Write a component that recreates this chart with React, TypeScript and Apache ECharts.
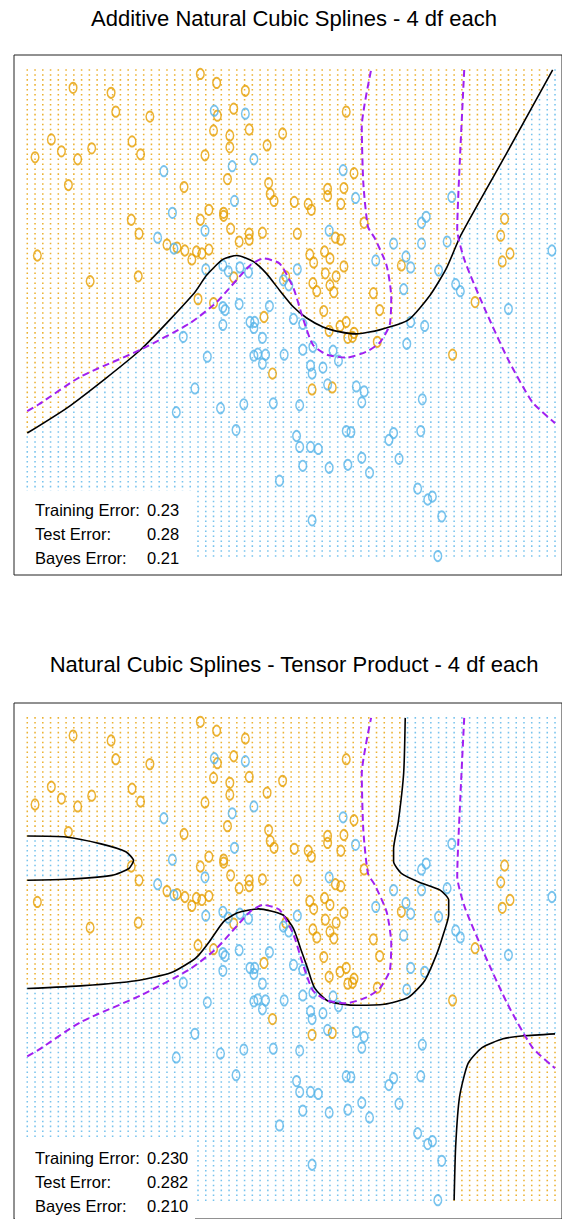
import React, { useEffect, useRef } from "react";
import * as echarts from "echarts";

const ORANGE = "#E69F00";
const BLUE = "#56B4E9";
const PURPLE = "#A020F0";
const FONT = "'Liberation Sans', Arial, Helvetica, sans-serif";

const titles = [
  "Additive Natural Cubic Splines - 4 df each",
  "Natural Cubic Splines - Tensor Product - 4 df each",
];
const errorLabels = ["Training Error:", "Test Error:", "Bayes Error:"];
const errorValues1 = ["0.23", "0.28", "0.21"];
const errorValues2 = ["0.230", "0.282", "0.210"];

// prediction lattice (x1: -2.6..4.2 by 0.1, x2: -2..2.9 by 0.05)
const px1 = Array.from({ length: 69 }, (_, i) => Math.round((-2.6 + 0.1 * i) * 100) / 100);
const px2 = Array.from({ length: 99 }, (_, j) => Math.round((-2 + 0.05 * j) * 100) / 100);

// training points
const orangePts: [number, number][] = [
  [-2.01, 2.72], [-1.52, 2.67], [-1.46, 2.48], [-1.02, 2.43], [-2.29, 2.2], [-1.25, 2.18], [-2.16, 2.08], [-1.77, 2.11],
  [-2.5, 2.02], [-1.95, 2.0], [-1.14, 2.05], [-2.07, 1.74], [-0.58, 1.72], [-1.26, 1.39], [-1.16, 1.25], [-2.47, 1.03],
  [-1.79, 0.77], [-1.17, 0.82], [-0.8, 1.14], [-0.67, 1.11], [-0.57, 1.08], [-0.48, 0.99], [-0.42, 1.07], [-0.35, 1.05],
  [-0.26, 1.09], [-0.37, 2.86], [-0.16, 2.77], [0.21, 2.69], [0.06, 2.51], [-0.15, 2.44], [1.51, 2.48], [-0.2, 2.29],
  [0.01, 2.24], [0.26, 2.3], [0.69, 2.26], [0.01, 2.12], [0.49, 2.14], [-0.31, 2.04], [1.61, 1.86], [-0.02, 1.8],
  [0.51, 1.76], [0.53, 1.65], [0.58, 1.58], [1.27, 1.7], [1.27, 1.63], [1.48, 1.71], [0.84, 1.57], [1.02, 1.55],
  [1.06, 1.49], [1.44, 1.55], [-0.26, 1.49], [-0.37, 1.39], [-0.07, 1.46], [-0.07, 1.43], [1.74, 1.36], [0.02, 1.3],
  [0.26, 1.25], [0.26, 1.19], [0.13, 1.17], [0.43, 1.26], [0.88, 1.25], [1.37, 1.21], [1.44, 1.19], [0.06, 0.81],
  [-0.4, 0.59], [-0.2, 0.55], [0.45, 0.41], [0.73, 0.82], [1.04, 1.04], [1.09, 0.96], [1.23, 1.07], [1.3, 1.0],
  [1.48, 0.92], [1.24, 0.85], [1.38, 0.82], [1.08, 0.75], [1.13, 0.67], [1.3, 0.73], [1.35, 0.66], [1.86, 0.65],
  [1.22, 0.47], [1.29, 0.27], [1.43, 0.32], [1.51, 0.36], [1.53, 0.2], [1.61, 0.25], [1.59, 0.21], [1.91, 0.16],
  [0.56, -0.16], [1.07, -0.32], [1.33, -0.3], [3.55, 1.4], [3.5, 1.23], [3.62, 1.05], [3.52, 0.97], [2.22, 0.93],
  [1.94, 0.48], [3.17, 0.56], [2.88, 0.03],
];
const bluePts: [number, number][] = [
  [-0.84, 1.88], [-0.73, 1.46], [-0.19, 2.49], [0.21, 2.46], [0.32, 2.0], [0.04, 1.93], [1.47, 1.89], [1.63, 1.61],
  [0.07, 1.58], [-0.31, 1.28], [1.29, 1.28], [2.87, 1.62], [2.54, 1.42], [2.48, 1.36], [-0.92, 1.21], [-0.71, 1.1],
  [-0.59, 0.21], [-0.44, -0.31], [-0.3, 0.89], [-0.08, 0.93], [-0.01, 0.87], [0.14, 0.91], [0.25, 0.86], [0.7, 0.78],
  [0.77, 0.73], [0.88, 0.89], [1.89, 0.98], [-0.08, 0.51], [-0.05, 0.48], [0.13, 0.54], [0.52, 0.52], [-0.08, 0.33],
  [0.27, 0.36], [0.33, 0.36], [0.32, 0.3], [0.83, 0.39], [0.95, 0.34], [0.43, 0.2], [-0.28, 0.01], [0.32, 0.02],
  [0.37, 0.04], [0.47, 0.03], [0.43, -0.06], [0.71, 0.03], [0.95, 0.08], [1.08, 0.11], [1.34, 0.07], [1.41, -0.03],
  [1.05, -0.08], [1.07, -0.16], [1.21, -0.1], [1.27, -0.27], [1.64, -0.29], [1.74, -0.34], [1.71, -0.45], [2.12, 1.15],
  [2.48, 1.15], [2.81, 1.17], [2.28, 1.02], [2.34, 0.91], [2.7, 0.88], [2.92, 0.74], [2.98, 0.67], [2.25, 0.69],
  [4.16, 1.08], [3.6, 0.49], [2.34, 0.36], [2.52, 0.32], [2.29, 0.14], [2.49, -0.42], [-0.68, -0.55], [-0.11, -0.51],
  [0.19, -0.47], [0.57, -0.46], [0.91, -0.48], [0.09, -0.73], [0.87, -0.79], [0.91, -0.9], [1.05, -0.9], [1.15, -0.92],
  [1.51, -0.74], [1.57, -0.75], [0.95, -1.09], [1.29, -1.11], [1.53, -1.08], [1.71, -1.01], [1.81, -1.16], [0.65, -1.24],
  [1.07, -1.64], [2.12, -0.76], [2.06, -0.83], [2.47, -0.74], [2.19, -1.02], [2.43, -1.32], [2.62, -1.4], [2.56, -1.43],
  [2.74, -1.6], [2.69, -2.0],
];

// additive fit decision boundary
const fit1Boundary: [number, number][] = [
  [-2.6, -0.76], [-2.04, -0.48], [-1.14, 0.08], [-0.45, 0.65], [-0.29, 0.83], [-0.08, 0.99], [0.1, 1.03], [0.31, 0.97],
  [0.48, 0.85], [0.65, 0.68], [0.83, 0.51], [1.0, 0.4], [1.21, 0.31], [1.43, 0.26], [1.64, 0.24], [1.94, 0.28],
  [2.31, 0.38], [2.59, 0.63], [2.8, 0.9], [2.99, 1.24], [3.59, 2.08], [4.17, 2.9],
];
// Bayes decision boundary (two pieces)
const bayesA: [number, number][] = [
  [-2.6, -0.54], [-2.45, -0.47], [-1.91, -0.19], [-1.14, 0.08], [-0.5, 0.35], [-0.16, 0.56], [0.27, 0.93], [0.44, 1.0],
  [0.65, 0.95], [0.83, 0.7], [0.95, 0.4], [1.08, 0.13], [1.26, 0.03], [1.51, 0.0], [1.77, 0.06], [1.94, 0.15],
  [2.07, 0.33], [2.09, 0.61], [2.03, 0.93], [1.88, 1.2], [1.79, 1.32], [1.73, 1.76], [1.71, 2.33], [1.83, 2.9],
];
const bayesB: [number, number][] = [
  [3.03, 2.9], [2.98, 2.09], [2.94, 1.29], [3.04, 0.97], [3.29, 0.5], [3.59, -0.01], [3.91, -0.45], [4.2, -0.66],
];
// tensor-product fit decision boundary (three pieces)
const fit2Main: [number, number][] = [
  [2.27, 2.9], [2.25, 2.34], [2.18, 1.84], [2.12, 1.57], [2.12, 1.44], [2.22, 1.32], [2.45, 1.23], [2.72, 1.15],
  [2.83, 1.05], [2.83, 0.9], [2.76, 0.7], [2.67, 0.49], [2.52, 0.23], [2.31, 0.06], [2.0, -0.01], [1.64, -0.02],
  [1.28, 0.02], [1.1, 0.16], [1.01, 0.36], [0.92, 0.56], [0.83, 0.76], [0.69, 0.9], [0.38, 0.96], [0.11, 0.92],
  [-0.07, 0.83], [-0.25, 0.63], [-0.39, 0.49], [-0.48, 0.43], [-0.75, 0.31], [-1.2, 0.23], [-1.87, 0.18], [-2.6, 0.15],
];
const fit2Loop: [number, number][] = [
  [-2.6, 1.7], [-2.1, 1.69], [-1.65, 1.62], [-1.33, 1.54], [-1.23, 1.45], [-1.29, 1.37], [-1.51, 1.3], [-2.1, 1.26],
  [-2.6, 1.25],
];
const fit2Corner: [number, number][] = [
  [2.9, -2.0], [2.92, -1.45], [2.97, -0.95], [3.08, -0.61], [3.26, -0.45], [3.53, -0.36], [3.8, -0.33], [4.2, -0.31],
];

const X_MIN = -2.771, X_MAX = 4.29, Y_MIN = -2.191, Y_MAX = 3.051;

function inPoly(x: number, y: number, poly: [number, number][]) {
  let inside = false;
  for (let i = 0, j = poly.length - 1; i < poly.length; j = i++) {
    const [xi, yi] = poly[i];
    const [xj, yj] = poly[j];
    if (yi > y !== yj > y && x < ((xj - xi) * (y - yi)) / (yj - yi) + xi) inside = !inside;
  }
  return inside;
}

function splitLattice(isOrange: (x: number, y: number) => boolean) {
  const o: [number, number][] = [];
  const b: [number, number][] = [];
  for (const x of px1) for (const y of px2) (isOrange(x, y) ? o : b).push([x, y]);
  return [o, b];
}

export default function App() {
  const ref = useRef<HTMLDivElement>(null);
  useEffect(() => {
    if (!ref.current) return;
    const chart = echarts.init(ref.current, null, { renderer: "svg" });

    const polyA1: [number, number][] = [
      [-2.8, fit1Boundary[0][1]], ...fit1Boundary, [fit1Boundary[fit1Boundary.length - 1][0], 3.1], [-2.8, 3.1],
    ];
    const lat1 = splitLattice((x, y) => inPoly(x, y, polyA1));
    const polyMain: [number, number][] = [[-2.8, 3.1], [fit2Main[0][0], 3.1], ...fit2Main, [-2.8, fit2Main[fit2Main.length - 1][1]]];
    const polyLoop: [number, number][] = [[-2.8, fit2Loop[0][1]], ...fit2Loop, [-2.8, fit2Loop[fit2Loop.length - 1][1]]];
    const polyCorner: [number, number][] = [[fit2Corner[0][0], -2.1], ...fit2Corner, [4.4, fit2Corner[fit2Corner.length - 1][1]], [4.4, -2.1]];
    const lat2 = splitLattice(
      (x, y) => (inPoly(x, y, polyMain) && !inPoly(x, y, polyLoop)) || inPoly(x, y, polyCorner)
    );

    const latticeSeries = (data: any, color: string, idx: number) => ({
      type: "scatter", xAxisIndex: idx, yAxisIndex: idx, data, symbol: "rect", symbolSize: 1.55,
      large: true, largeThreshold: 500, itemStyle: { color }, silent: true, z: 1,
    });
    const pointSeries = (data: any, color: string, idx: number) => ({
      type: "scatter", xAxisIndex: idx, yAxisIndex: idx, data, symbol: "circle", symbolSize: [7.6, 10.2],
      itemStyle: { color: "rgba(0,0,0,0)", borderColor: color, borderWidth: 1.7 }, silent: true, z: 3,
    });
    const lineSeries = (data: any, color: string, width: number, type: any, idx: number) => ({
      type: "line", xAxisIndex: idx, yAxisIndex: idx, data, showSymbol: false, symbol: "none", smooth: 0.2,
      lineStyle: { color, width, type }, silent: true, z: 4,
    });

    const gridTops = [55, 703];
    const graphics: any[] = [];
    titles.forEach((t, k) => {
      graphics.push({
        type: "text", x: 294, y: 18 + k * 646, z: 20,
        style: { text: t, fontSize: 22, fontFamily: FONT, fill: "#000", textAlign: "center", textVerticalAlign: "middle" },
      });
    });
    [errorValues1, errorValues2].forEach((vals, k) => {
      const off = k * 648;
      graphics.push({ type: "rect", z: 10, shape: { x: 15, y: 491 + off, width: 180, height: 83 }, style: { fill: "#fff" } });
      errorLabels.forEach((lab, i) => {
        const y = 510 + off + i * 24;
        graphics.push({ type: "text", x: 35, y, z: 11, style: { text: lab, fontSize: 16.5, fontFamily: FONT, fill: "#000", textVerticalAlign: "middle" } });
        graphics.push({ type: "text", x: 147, y, z: 11, style: { text: vals[i], fontSize: 16.5, fontFamily: FONT, fill: "#000", textVerticalAlign: "middle" } });
      });
    });

    const axisCommon = { show: false, splitLine: { show: false } };
    chart.setOption({
      animation: false,
      grid: gridTops.map((top) => ({
        left: 14, top, width: 548, height: 520, show: true, borderColor: "#222", borderWidth: 1, backgroundColor: "#fff",
      })),
      xAxis: [0, 1].map((i) => ({ type: "value", gridIndex: i, min: X_MIN, max: X_MAX, ...axisCommon })),
      yAxis: [0, 1].map((i) => ({ type: "value", gridIndex: i, min: Y_MIN, max: Y_MAX, ...axisCommon })),
      series: [
        latticeSeries(lat1[0], ORANGE, 0),
        latticeSeries(lat1[1], BLUE, 0),
        pointSeries(orangePts, ORANGE, 0),
        pointSeries(bluePts, BLUE, 0),
        lineSeries(fit1Boundary, "#000", 1.6, "solid", 0),
        lineSeries(bayesA, PURPLE, 2, [7, 4], 0),
        lineSeries(bayesB, PURPLE, 2, [7, 4], 0),
        latticeSeries(lat2[0], ORANGE, 1),
        latticeSeries(lat2[1], BLUE, 1),
        pointSeries(orangePts, ORANGE, 1),
        pointSeries(bluePts, BLUE, 1),
        lineSeries(fit2Main, "#000", 1.6, "solid", 1),
        lineSeries(fit2Loop, "#000", 1.6, "solid", 1),
        lineSeries(fit2Corner, "#000", 1.6, "solid", 1),
        lineSeries(bayesA, PURPLE, 2, [7, 4], 1),
        lineSeries(bayesB, PURPLE, 2, [7, 4], 1),
      ],
      graphic: graphics,
    });
    return () => chart.dispose();
  }, []);
  return <div ref={ref} style={{ position: "absolute", left: 0, top: 0, width: 562, height: 1219 }} />;
}
